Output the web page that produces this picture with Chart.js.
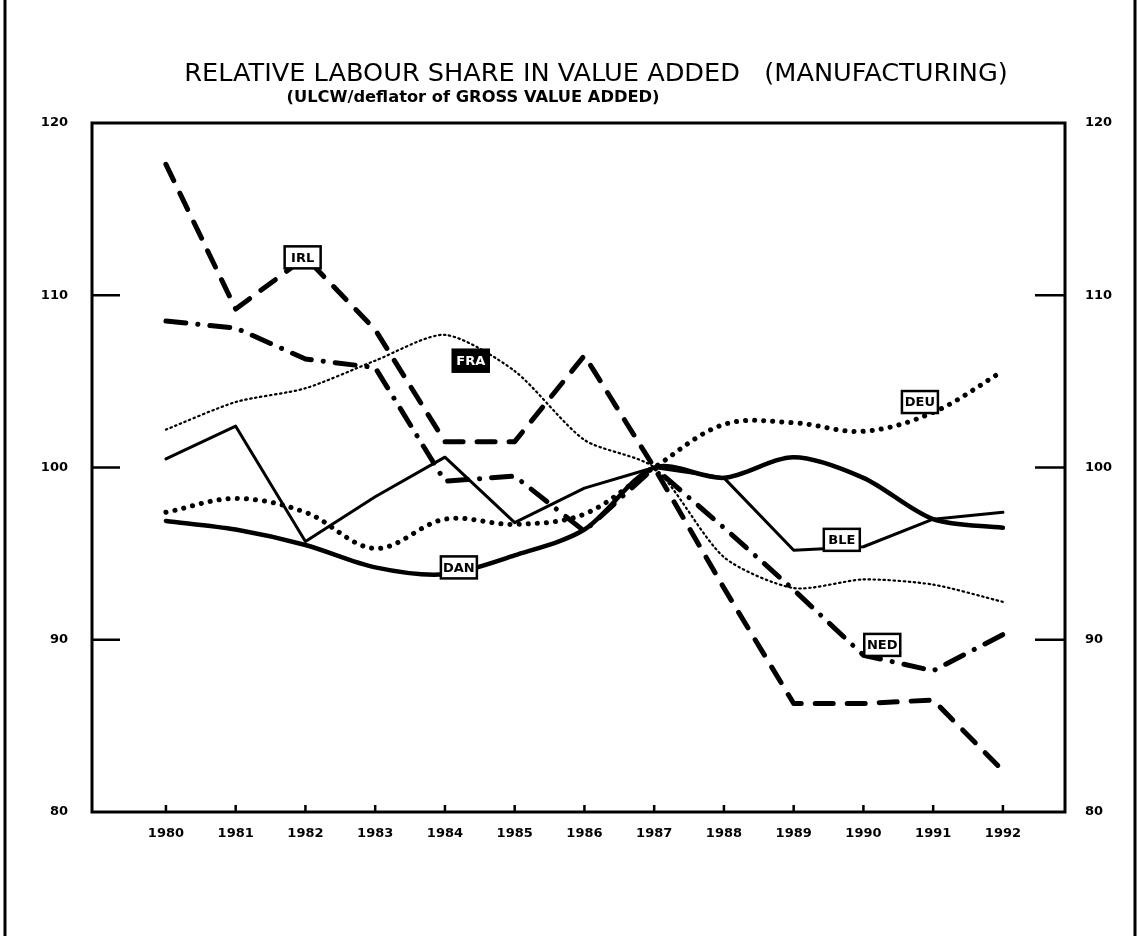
<!DOCTYPE html>
<html>
<head>
<meta charset="utf-8">
<script src="https://cdn.jsdelivr.net/npm/chart.js@4"></script>
<style>
  body { margin: 0; background: #fff; }
  #wrap { width: 1138px; height: 936px; }
</style>
</head>
<body>
<div id="wrap"><canvas id="myChart" width="1138" height="936"></canvas></div>
<script>
const years = [1980, 1981, 1982, 1983, 1984, 1985, 1986, 1987, 1988, 1989, 1990, 1991, 1992];
const irl = [117.6, 109.2, 112.2, 108.0, 101.5, 101.5, 106.5, 100, 93.0, 86.3, 86.3, 86.5, 82.4];
const ned = [108.5, 108.1, 106.3, 105.8, 99.2, 99.5, 96.3, 100, 96.5, 92.9, 89.1, 88.2, 90.3];
const fra = [102.2, 103.8, 104.6, 106.2, 107.7, 105.6, 101.6, 100, 94.8, 93.0, 93.5, 93.2, 92.2];
const deu = [97.4, 98.2, 97.4, 95.3, 97.0, 96.7, 97.3, 100, 102.5, 102.6, 102.1, 103.2, 105.6];
const ble = [100.5, 102.4, 95.7, 98.3, 100.6, 96.8, 98.8, 100, 99.4, 95.2, 95.4, 97.0, 97.4];
const dan = [96.9, 96.4, 95.5, 94.2, 93.8, 94.9, 96.4, 100, 99.4, 100.6, 99.4, 97.0, 96.5];
const yTicks = [80, 90, 100, 110, 120];

// where the little boxed country names sit (year, value)
const tagNames = ["IRL", "FRA", "DEU", "BLE", "DAN", "NED"];
const tagYears = [1981.96, 1984.37, 1990.81, 1989.69, 1984.2, 1990.27];
const tagValues = [112.2, 106.2, 103.8, 95.8, 94.2, 89.7];

const title = "RELATIVE LABOUR SHARE IN VALUE ADDED   (MANUFACTURING)";
const subtitle = "(ULCW/deflator of GROSS VALUE ADDED)";

function pts(vals) {
    return years.map((y, i) => ({ x: y, y: vals[i] }));
}

function fitFont(ctx, text, weight, family, width) {
    ctx.font = weight + " 20px " + family;
    const s = 20 * width / ctx.measureText(text).width;
    return weight + " " + s.toFixed(1) + "px " + family;
}

const decor = {
    id: 'decor',
    beforeDraw(chart) {
        const ctx = chart.ctx;
        ctx.save();
        ctx.fillStyle = '#fff';
        ctx.fillRect(0, 0, chart.width, chart.height);
        // page edges of the scanned sheet
        ctx.strokeStyle = '#000';
        ctx.lineWidth = 3;
        ctx.beginPath();
        ctx.moveTo(5, 0); ctx.lineTo(5, chart.height);
        ctx.moveTo(1135, 0); ctx.lineTo(1135, chart.height);
        ctx.stroke();
        ctx.fillStyle = '#000';
        ctx.textBaseline = 'middle';
        ctx.textAlign = 'center';
        ctx.font = fitFont(ctx, title, "normal", "'DejaVu Sans'", 823);
        ctx.fillText(title, 596, 74);
        ctx.font = fitFont(ctx, subtitle, "bold", "'DejaVu Sans'", 373);
        ctx.fillText(subtitle, 473, 98);
        ctx.restore();
    },
    afterDatasetsDraw(chart) {
        const { ctx, chartArea: a, scales } = chart;
        ctx.save();
        ctx.strokeStyle = '#000';
        ctx.lineWidth = 3;
        ctx.strokeRect(a.left, a.top, a.right - a.left, a.bottom - a.top);
        ctx.lineWidth = 2.5;
        ctx.beginPath();
        yTicks.slice(1, -1).forEach(v => {
            const y = scales.y.getPixelForValue(v);
            ctx.moveTo(a.left, y); ctx.lineTo(a.left + 28, y);
            ctx.moveTo(a.right - 30, y); ctx.lineTo(a.right, y);
        });
        years.forEach(v => {
            const x = scales.x.getPixelForValue(v);
            ctx.moveTo(x, a.bottom); ctx.lineTo(x, a.bottom - 7);
        });
        ctx.stroke();

        ctx.font = "bold 13px 'DejaVu Sans'";
        ctx.textAlign = 'center';
        ctx.textBaseline = 'middle';
        tagNames.forEach((name, i) => {
            const x = scales.x.getPixelForValue(tagYears[i]);
            const y = scales.y.getPixelForValue(tagValues[i]);
            const w = 36, h = 22;
            const dark = name === "FRA";
            ctx.fillStyle = dark ? '#000' : '#fff';
            ctx.fillRect(x - w / 2, y - h / 2, w, h);
            ctx.lineWidth = 2.5;
            ctx.strokeRect(x - w / 2, y - h / 2, w, h);
            ctx.fillStyle = dark ? '#fff' : '#000';
            ctx.fillText(name, x, y + 1);
        });
        ctx.restore();
    }
};

function line(vals, width, dash, tension) {
    return {
        data: pts(vals),
        borderColor: '#000',
        borderWidth: width,
        borderDash: dash,
        borderCapStyle: 'round',
        borderJoinStyle: 'round',
        tension: tension,
        pointRadius: 0,
        fill: false
    };
}

const tickFont = { family: "'DejaVu Sans'", weight: 'bold', size: 13 };

new Chart(document.getElementById('myChart'), {
    type: 'line',
    data: {
        datasets: [
            line(fra, 2.2, [1.5, 3.5], 0.25),
            line(deu, 5, [0.1, 9], 0.35),
            line(ble, 3, [], 0),
            line(dan, 4.5, [], 0.3),
            line(ned, 5, [20, 12, 0.1, 12], 0),
            line(irl, 5, [18, 14], 0)
        ]
    },
    options: {
        responsive: false,
        animation: false,
        layout: { padding: { top: 123, bottom: 84, left: 0, right: 0 } },
        plugins: {
            legend: { display: false },
            tooltip: { enabled: false }
        },
        scales: {
            x: {
                type: 'linear',
                min: 1978.94,
                max: 1992.89,
                afterBuildTicks: s => { s.ticks = years.map(v => ({ value: v })); },
                afterFit: s => { s.height = 40; },
                grid: { display: false, drawTicks: false },
                border: { display: false },
                ticks: { color: '#000', font: tickFont, padding: 14, maxRotation: 0, callback: v => String(v) }
            },
            y: {
                position: 'left',
                min: 80,
                max: 120,
                afterBuildTicks: s => { s.ticks = yTicks.map(v => ({ value: v })); },
                afterFit: s => { s.width = 92; },
                grid: { display: false, drawTicks: false },
                border: { display: false },
                ticks: { color: '#000', font: tickFont, padding: 24 }
            },
            y2: {
                position: 'right',
                min: 80,
                max: 120,
                afterBuildTicks: s => { s.ticks = yTicks.map(v => ({ value: v })); },
                afterFit: s => { s.width = 73; },
                grid: { display: false, drawTicks: false },
                border: { display: false },
                ticks: { color: '#000', font: tickFont, padding: 20 }
            }
        }
    },
    plugins: [decor]
});
</script>
</body>
</html>
